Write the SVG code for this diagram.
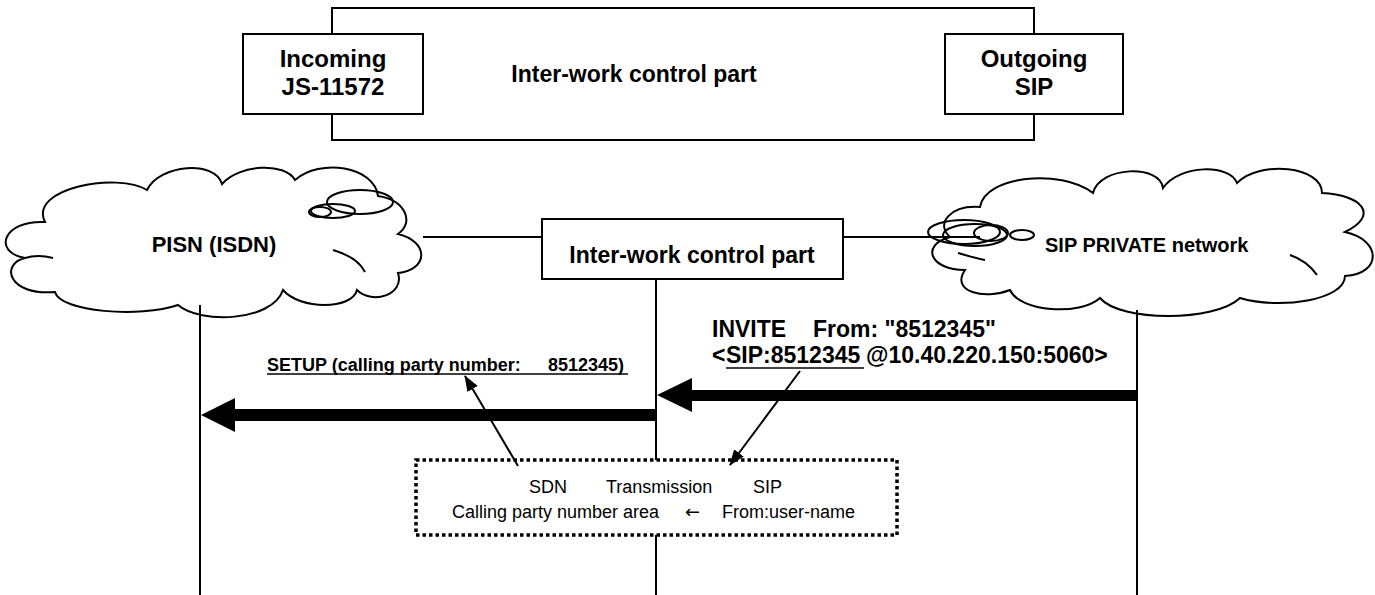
<svg xmlns="http://www.w3.org/2000/svg" width="1375" height="595" viewBox="0 0 1375 595">
<style>
.ln{stroke:#000;stroke-width:2;fill:none}
.box{stroke:#000;stroke-width:2;fill:#fff}
.cloud{stroke:#000;stroke-width:2;fill:#fff}
.b{font-family:"Liberation Sans",Arial,sans-serif;font-weight:bold;fill:#000}
.r{font-family:"Liberation Sans",Arial,sans-serif;fill:#000}
.pre{white-space:pre}
</style>
<defs>
<marker id="ah" markerWidth="16" markerHeight="12" refX="15" refY="6" orient="auto" markerUnits="userSpaceOnUse">
<path d="M0,0 L16,6 L0,12 Z" fill="#000"/>
</marker>
</defs>
<rect width="1375" height="595" fill="#fff"/>

<g id="top-frame">
<rect x="332" y="8" width="702" height="132" class="ln"/>
<text x="634" y="82" class="b" font-size="23" text-anchor="middle">Inter-work control part</text>
</g>
<g id="incoming">
<rect x="243" y="34" width="180" height="80" class="box"/>
<text x="333" y="67" class="b" font-size="24" text-anchor="middle">Incoming</text>
<text x="333" y="95" class="b" font-size="24" text-anchor="middle">JS-11572</text>
</g>
<g id="outgoing">
<rect x="945" y="34" width="178" height="80" class="box"/>
<text x="1034" y="67" class="b" font-size="24" text-anchor="middle">Outgoing</text>
<text x="1034" y="95" class="b" font-size="24" text-anchor="middle">SIP</text>
</g>

<g id="pisn">
<path class="cloud" d="M45,222 C28,188 118,172 147,190 C160,164 215,160 222,184 C240,164 285,162 295,180 C320,158 374,166 378,196 C405,200 415,222 398,234 C430,242 428,270 398,273 C405,295 372,305 357,290 C352,310 300,310 283,290 C272,322 200,324 178,305 C140,318 60,312 55,292 C8,296 0,264 25,258 C-8,252 3,220 45,222 Z"/>
<path class="ln" d="M25,258 C35,255 45,256 53,258"/>
<path class="ln" d="M333,250 C350,255 360,262 365,272"/>
<ellipse cx="360" cy="202" rx="33" ry="12" class="ln"/>
<ellipse cx="333" cy="211" rx="22" ry="7" class="ln"/>
<ellipse cx="320" cy="212" rx="11" ry="5" class="ln"/>
<text x="214" y="252" class="b" font-size="22" text-anchor="middle">PISN (ISDN)</text>
</g>

<g id="sip-network">
<path class="cloud" d="M980,207 C985,176 1060,168 1093,193 C1100,166 1160,164 1163,188 C1180,164 1230,164 1237,183 C1260,160 1322,166 1322,193 C1362,195 1380,215 1345,232 C1382,240 1382,274 1345,276 C1345,300 1280,310 1240,298 C1215,322 1120,322 1100,298 C1080,316 1020,312 1010,290 C985,300 950,292 965,270 C930,270 920,245 950,237 C935,224 950,205 980,207 Z"/>
<path class="ln" d="M958,253 C965,255 975,258 985,260"/>
<path class="ln" d="M1290,255 C1305,260 1312,268 1317,275"/>
<ellipse cx="964" cy="232" rx="36" ry="12" class="ln"/>
<ellipse cx="975" cy="235" rx="32" ry="11" class="ln"/>
<ellipse cx="991" cy="233" rx="17" ry="8" class="ln"/>
<ellipse cx="1022" cy="235" rx="12" ry="5" class="ln"/>
<text x="1045" y="252" class="b" font-size="20">SIP PRIVATE network</text>
</g>

<g id="iwcp">
<rect x="542" y="219" width="301" height="60" class="box"/>
<text x="692" y="263" class="b" font-size="23" text-anchor="middle">Inter-work control part</text>
</g>

<g id="note">
<rect x="416" y="460" width="481" height="75" fill="#fff" stroke="#000" stroke-width="3.5" stroke-dasharray="3.5 3"/>
<text y="493" class="r" font-size="18"><tspan x="529">SDN</tspan><tspan x="606">Transmission</tspan><tspan x="753">SIP</tspan></text>
<text y="518" class="r" font-size="18"><tspan x="452">Calling party number area</tspan><tspan x="685" font-family="'DejaVu Sans',sans-serif" fill="#000">←</tspan><tspan x="722">From:user-name</tspan></text>
</g>

<g id="labels">
<text y="371" class="b pre" font-size="18"><tspan x="267">SETUP (calling party number:</tspan><tspan x="548">8512345)</tspan></text>
<line x1="267" y1="374" x2="628" y2="374" stroke="#000" stroke-width="1.5"/>
<text y="337" class="b" font-size="23"><tspan x="712">INVITE</tspan><tspan x="813">From: "8512345"</tspan></text>
<text y="363" class="b" font-size="23"><tspan x="712">&lt;</tspan><tspan x="726">SIP:8512345</tspan><tspan x="866">@10.40.220.150:5060&gt;</tspan></text>
<line x1="726" y1="368" x2="864" y2="368" stroke="#000" stroke-width="1.5"/>
</g>

<g id="connectors">
<line x1="423" y1="237" x2="542" y2="237" class="ln"/>
<line x1="843" y1="237" x2="980" y2="237" class="ln"/>
<line x1="200" y1="305" x2="200" y2="595" class="ln"/>
<line x1="656" y1="279" x2="656" y2="460" class="ln"/>
<line x1="656" y1="535" x2="656" y2="595" class="ln"/>
<line x1="1137" y1="310" x2="1137" y2="595" class="ln"/>
<polygon points="201,415 235,398 235,409 655,409 655,421 235,421 235,432" fill="#000"/>
<polygon points="657,395 692,378 692,390 1136,390 1136,401 692,401 692,412" fill="#000"/>
<line x1="518" y1="466" x2="465" y2="376" stroke="#000" stroke-width="2" marker-end="url(#ah)"/>
<line x1="800" y1="371" x2="730" y2="465" stroke="#000" stroke-width="2" marker-end="url(#ah)"/>
</g>
</svg>
